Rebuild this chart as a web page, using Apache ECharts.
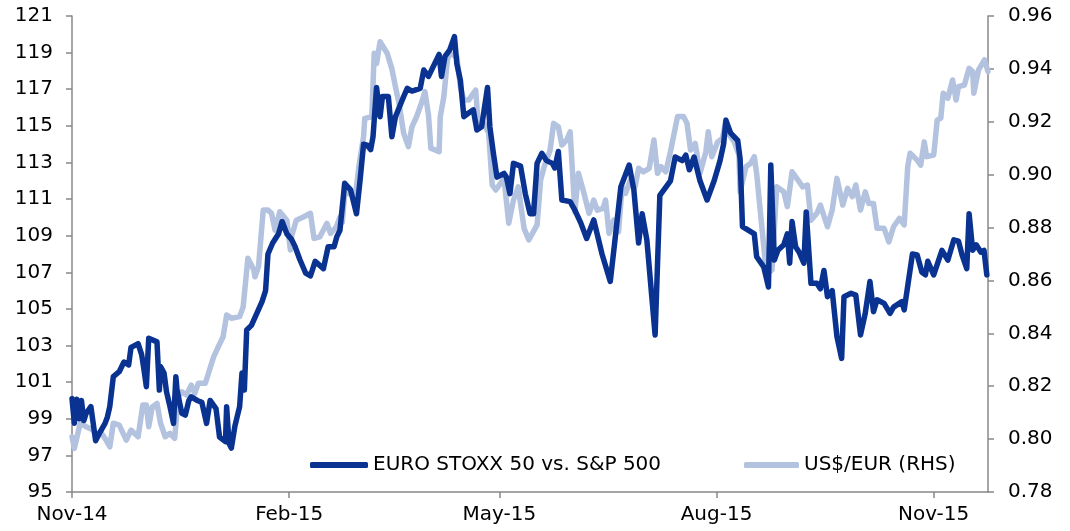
<!DOCTYPE html>
<html>
<head>
<meta charset="utf-8">
<script src="https://cdn.jsdelivr.net/npm/echarts@6/dist/echarts.min.js"></script>
<style>
  html, body { margin: 0; padding: 0; background: #fff; }
  #chart { width: 1070px; height: 531px; }
</style>
</head>
<body>
<div id="chart"></div>
<script>
// x values are days since 2014-11-01
const stoxxDays = [0, 1, 2, 3, 4, 5, 6, 8, 10, 12, 14, 15, 16, 17.5, 20, 22, 24, 25, 28, 29.5, 30.5, 31.5, 32.5, 36, 37, 37.5, 39, 40, 41.5, 43, 44, 44.5, 46.5, 48, 49.5, 50.5, 53, 55, 57, 58.5, 61, 62.5, 65, 65.5, 66.5, 67.5, 69, 71, 72, 73, 74, 76, 80.5, 82, 83, 85, 87.5, 89, 91, 93, 94.5, 96.5, 99, 101, 103, 106.5, 108.5, 111, 112.2, 113.5, 115.5, 118, 120.5, 122, 123.5, 125, 126.5, 127.5, 129, 130.5, 131.5, 134, 135.5, 137, 140.5, 142, 144, 147.5, 149, 151, 155.5, 156.5, 158, 160, 162, 163, 164.5, 166, 168, 170, 171.5, 173.5, 176, 177, 178.5, 180, 183, 184, 185.5, 187, 190, 192, 194, 195.5, 197, 199, 201, 203.5, 204.5, 206, 207.5, 211, 213, 215.5, 218, 221, 224.5, 228, 230, 232.5, 236, 238, 240, 241.5, 243.5, 247, 249, 253.5, 255.5, 258.5, 260, 261.5, 263.5, 266, 269, 272, 274.5, 276, 277, 279, 282, 283, 284, 289, 290, 293, 295, 296, 297.5, 299, 301.5, 303, 304, 305, 306.5, 308, 310, 311, 313, 315.5, 317, 318.5, 320, 322, 324, 326, 327, 330, 332, 334, 336, 338, 339.5, 341, 344, 346.5, 348, 351.5, 352.5, 356, 358, 360, 361.5, 362.5, 365, 368.5, 371, 373.5, 375.5, 377, 379, 380, 381.5, 383, 385, 386.3, 387.5];
const stoxxRel = [100.1, 98.75, 100.07, 99.0, 100.0, 98.9, 99.3, 99.66, 97.8, 98.3, 98.75, 99.1, 99.66, 101.3, 101.57, 102.1, 101.94, 102.9, 103.1, 102.5, 101.67, 100.75, 103.4, 103.2, 100.57, 101.85, 101.5, 100.5, 99.66, 98.75, 101.3, 100.57, 99.3, 99.2, 100.0, 100.2, 100.0, 99.9, 98.75, 100.0, 99.56, 98.0, 97.75, 99.66, 97.66, 97.4, 98.6, 99.66, 101.5, 100.57, 103.85, 104.1, 105.4, 106.0, 108.0, 108.6, 109.1, 109.77, 109.1, 108.8, 108.4, 107.7, 106.95, 106.8, 107.6, 107.2, 108.4, 108.4, 108.95, 109.3, 111.86, 111.5, 110.2, 112.0, 114.0, 113.95, 113.7, 114.4, 117.1, 115.5, 116.6, 116.6, 114.4, 115.5, 116.6, 117.05, 116.9, 117.05, 118.05, 117.7, 118.9, 117.7, 118.8, 119.15, 119.87, 118.4, 117.5, 115.5, 115.7, 115.87, 114.77, 114.95, 117.1, 114.95, 113.5, 112.2, 112.4, 112.2, 111.3, 112.95, 112.8, 111.3, 110.2, 110.2, 112.95, 113.5, 113.1, 112.95, 112.7, 113.6, 110.95, 110.86, 110.4, 109.7, 108.85, 109.86, 108.0, 106.5, 108.77, 111.68, 112.86, 111.5, 108.6, 110.2, 108.77, 103.58, 111.2, 112.0, 113.3, 113.1, 113.4, 112.6, 113.3, 112.0, 110.95, 112.0, 113.1, 114.0, 115.3, 114.6, 114.2, 113.2, 109.5, 109.1, 107.85, 107.3, 106.2, 112.86, 107.67, 108.2, 108.5, 109.1, 107.5, 109.77, 108.4, 108.1, 107.5, 110.3, 106.4, 106.4, 106.1, 107.1, 105.67, 106.0, 103.5, 102.3, 105.67, 105.85, 105.76, 103.58, 104.76, 106.5, 104.85, 105.5, 105.3, 104.76, 105.1, 105.4, 104.95, 108.0, 107.95, 107.0, 106.86, 107.6, 106.86, 108.2, 107.67, 108.77, 108.7, 107.95, 107.2, 110.2, 108.2, 108.5, 108.1, 108.2, 106.86];

const fxDays = [0, 1, 3.5, 6, 9, 10.5, 12.5, 14, 16, 17.5, 20, 23, 25, 28, 30, 31.5, 32.5, 34, 36, 37.5, 39.5, 41.5, 43.5, 45, 46.5, 48.5, 50.5, 52, 53.5, 56.5, 58, 60, 62, 64, 65.5, 67.5, 71, 72.5, 74.5, 77, 77.5, 79, 81, 83, 84.5, 86, 88, 91, 92.5, 93, 95, 98, 101, 102.5, 105, 108, 109.5, 112, 113.5, 114.5, 115.5, 118.5, 120, 121.5, 123.5, 124, 127, 128, 129, 130.5, 133.5, 135.5, 137, 138.5, 140.5, 142.5, 144, 146, 148, 149.5, 151, 152, 155.5, 156, 157.5, 159, 160, 163, 164.5, 166, 168, 171, 172, 174.5, 176.5, 178, 179.5, 181.5, 183, 185, 187, 189, 191.5, 193.5, 197, 198.5, 200, 202.5, 204, 206, 207.5, 209.5, 211, 213, 214.5, 216.5, 219, 221, 222.5, 225, 226, 227.5, 229.5, 231.5, 233, 234.5, 236.5, 238.5, 240, 242, 244.5, 246.5, 248, 249.5, 251.5, 253.5, 256.5, 259, 260.5, 262, 264, 266, 268.5, 269.5, 271, 273.5, 275.5, 277, 278, 280.5, 282.5, 283, 285.5, 287.5, 289, 290, 291.5, 294, 295, 296.5, 298.5, 301.5, 303, 305, 307, 309.5, 311.5, 313, 315.5, 317, 320, 322, 324, 326.5, 328.5, 330.5, 332, 334, 336, 337.5, 339.5, 341, 344, 346, 348, 350.5, 352.5, 354, 355, 358, 359.5, 361, 362, 365, 366.5, 368, 369, 371, 373, 374.5, 375.5, 378, 380, 381.5, 382, 384, 386.5, 388];
const fxRate = [0.8009, 0.7965, 0.806, 0.8047, 0.8034, 0.8015, 0.8022, 0.8003, 0.7971, 0.806, 0.8053, 0.7996, 0.8034, 0.8009, 0.8129, 0.8129, 0.8047, 0.8122, 0.8135, 0.806, 0.8009, 0.8022, 0.8003, 0.816, 0.8179, 0.8167, 0.8204, 0.8173, 0.8211, 0.8211, 0.8255, 0.8311, 0.835, 0.8387, 0.8469, 0.8457, 0.8463, 0.85, 0.8684, 0.864, 0.8614, 0.8652, 0.8866, 0.8866, 0.8854, 0.879, 0.886, 0.8828, 0.8715, 0.8766, 0.8828, 0.884, 0.8854, 0.8759, 0.8765, 0.8816, 0.8778, 0.8803, 0.884, 0.882, 0.8929, 0.8929, 0.8917, 0.903, 0.9144, 0.9213, 0.9219, 0.9459, 0.942, 0.9503, 0.9459, 0.940, 0.9333, 0.927, 0.9156, 0.9106, 0.9181, 0.922, 0.927, 0.9314, 0.9226, 0.91, 0.9087, 0.922, 0.9295, 0.9434, 0.9459, 0.9446, 0.9333, 0.9282, 0.9282, 0.932, 0.9194, 0.9194, 0.9156, 0.8961, 0.8942, 0.8967, 0.8986, 0.8816, 0.8904, 0.8954, 0.8797, 0.8753, 0.881, 0.898, 0.903, 0.9093, 0.9194, 0.9181, 0.9112, 0.9131, 0.9162, 0.886, 0.9005, 0.8942, 0.8854, 0.8904, 0.8866, 0.8873, 0.8904, 0.8778, 0.8828, 0.8784, 0.8954, 0.8929, 0.898, 0.8954, 0.9024, 0.9011, 0.9024, 0.9131, 0.9005, 0.903, 0.9011, 0.9087, 0.922, 0.922, 0.9194, 0.9093, 0.9118, 0.9005, 0.9087, 0.9162, 0.9068, 0.9124, 0.9137, 0.9207, 0.9156, 0.9124, 0.9074, 0.8935, 0.903, 0.9043, 0.9068, 0.9005, 0.8866, 0.864, 0.8627, 0.864, 0.8954, 0.8935, 0.8879, 0.9011, 0.8986, 0.8954, 0.8961, 0.8828, 0.8854, 0.8885, 0.8803, 0.8866, 0.8986, 0.8885, 0.8948, 0.8917, 0.8961, 0.8866, 0.8935, 0.8891, 0.8891, 0.8797, 0.8797, 0.8746, 0.8803, 0.8835, 0.881, 0.903, 0.9081, 0.9055, 0.9036, 0.9124, 0.9068, 0.9074, 0.9207, 0.9213, 0.9308, 0.9289, 0.9358, 0.9282, 0.9333, 0.9339, 0.9402, 0.939, 0.9308, 0.9396, 0.9434, 0.939];

const monthTicks = [0, 92, 181, 273, 365];
const monthLabels = ['Nov-14', 'Feb-15', 'May-15', 'Aug-15', 'Nov-15'];
const seriesNames = ['EURO STOXX 50 vs. S&P 500', 'US$/EUR (RHS)'];

const axisGrey = '#888888';
const darkBlue = '#0a3391';
const lightBlue = '#b3c2de';
const font = '"DejaVu Sans", "Liberation Sans", Arial, sans-serif';

const chart = echarts.init(document.getElementById('chart'), null, { renderer: 'canvas' });

const pair = (xs, ys) => xs.map((x, i) => [x, ys[i]]);
const legendText = { fontSize: 20, color: '#000', fontFamily: font };

chart.setOption({
  animation: false,
  textStyle: { fontFamily: font },
  grid: { left: 72, right: 82, top: 16, bottom: 39 },
  legend: [{
    left: 305, top: 450,
    icon: 'roundRect', itemWidth: 58, itemHeight: 6,
    textStyle: legendText,
    data: [seriesNames[0]]
  }, {
    left: 739, top: 450,
    icon: 'roundRect', itemWidth: 55, itemHeight: 6,
    textStyle: legendText,
    data: [seriesNames[1]]
  }],
  xAxis: {
    type: 'value',
    min: 0,
    max: 388,
    splitLine: { show: false },
    axisLine: { lineStyle: { color: axisGrey, width: 1.5 } },
    axisTick: { customValues: monthTicks, length: 6, lineStyle: { color: axisGrey, width: 1.5 } },
    axisLabel: {
      customValues: monthTicks,
      formatter: v => monthLabels[monthTicks.indexOf(v)] || '',
      fontSize: 20, color: '#000', margin: 13
    }
  },
  yAxis: [{
    type: 'value',
    min: 95, max: 121, interval: 2,
    splitLine: { show: false },
    axisLine: { show: true, lineStyle: { color: axisGrey, width: 1.5 } },
    axisTick: { show: true, length: 6, lineStyle: { color: axisGrey, width: 1.5 } },
    axisLabel: { fontSize: 20, color: '#000', margin: 19 }
  }, {
    type: 'value',
    min: 0.78, max: 0.96, interval: 0.02,
    splitLine: { show: false },
    axisLine: { show: true, lineStyle: { color: axisGrey, width: 1.5 } },
    axisTick: { show: true, length: 6, lineStyle: { color: axisGrey, width: 1.5 } },
    axisLabel: { fontSize: 20, color: '#000', margin: 20, formatter: v => v.toFixed(2) }
  }],
  series: [{
    name: seriesNames[1],
    type: 'line',
    yAxisIndex: 1,
    data: pair(fxDays, fxRate),
    showSymbol: false,
    lineStyle: { color: lightBlue, width: 5.5, join: 'round', cap: 'round' },
    itemStyle: { color: lightBlue },
    z: 2
  }, {
    name: seriesNames[0],
    type: 'line',
    yAxisIndex: 0,
    data: pair(stoxxDays, stoxxRel),
    showSymbol: false,
    lineStyle: { color: darkBlue, width: 5.5, join: 'round', cap: 'round' },
    itemStyle: { color: darkBlue },
    z: 3
  }]
});
</script>
</body>
</html>
